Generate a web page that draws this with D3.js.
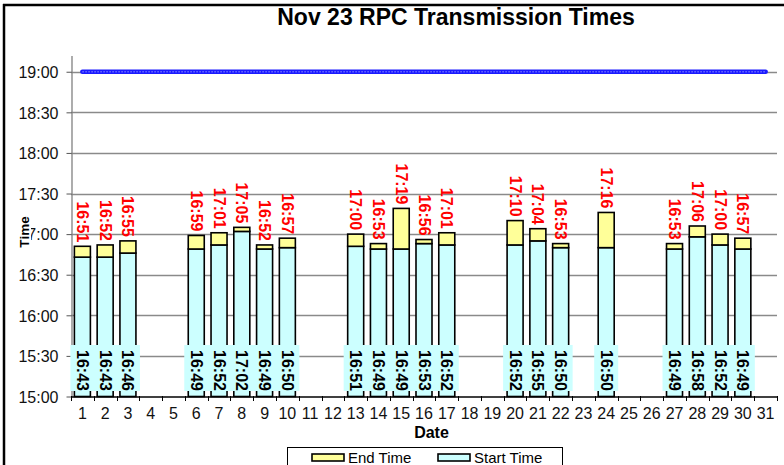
<!DOCTYPE html>
<html><head><meta charset="utf-8">
<script src="https://cdn.jsdelivr.net/npm/d3@7"></script>
<style>
html,body{margin:0;padding:0;background:#fff;}
svg{display:block;font-family:"Liberation Sans",Arial,sans-serif;}
</style></head>
<body>
<svg id="chart" width="784" height="465"></svg>
<script>
const categories = d3.range(1, 32).map(String);
const days = ["1","2","3","6","7","8","9","10","13","14","15","16","17","20","21","22","24","27","28","29","30"];
const startTimes = ["16:43","16:43","16:46","16:49","16:52","17:02","16:49","16:50","16:51","16:49","16:49","16:53","16:52","16:52","16:55","16:50","16:50","16:49","16:58","16:52","16:49"];
const endTimes = ["16:51","16:52","16:55","16:59","17:01","17:05","16:52","16:57","17:00","16:53","17:19","16:56","17:01","17:10","17:04","16:53","17:16","16:53","17:06","17:00","16:57"];
const deadlineValues = categories.map(() => "19:00");
const yTickLabels = ["15:00","15:30","16:00","16:30","17:00","17:30","18:00","18:30","19:00"];
const yDomain = ["15:00","19:12"];

const toMin = s => { const [h,m] = s.split(":").map(Number); return h*60+m; };

const svg = d3.select("#chart");
const x = d3.scaleBand().domain(categories).range([71, 777]).paddingInner(0).paddingOuter(0);
const y = d3.scaleLinear().domain(yDomain.map(toMin)).range([396.5, 55.5]);

// outer frame
svg.append("line").attr("x1",3).attr("x2",784).attr("y1",5).attr("y2",5).attr("stroke","#000").attr("stroke-width",2.5);
svg.append("line").attr("x1",4).attr("x2",4).attr("y1",4).attr("y2",465).attr("stroke","#000").attr("stroke-width",2.5);

// title
svg.append("text").attr("x",456).attr("y",25).attr("text-anchor","middle")
  .attr("font-weight","bold").attr("font-size",23).text("Nov 23 RPC Transmission Times");

// gridlines
svg.append("g").selectAll("line").data(yTickLabels.slice(1)).join("line")
  .attr("x1",71).attr("x2",777)
  .attr("y1",d=>Math.round(y(toMin(d)))+0.5).attr("y2",d=>Math.round(y(toMin(d)))+0.5)
  .attr("stroke","#8a8a8a").attr("stroke-width",1.3);

// y axis
const yAxis = d3.axisLeft(y).tickValues(yTickLabels.map(toMin))
  .tickFormat(v => yTickLabels[yTickLabels.map(toMin).indexOf(v)]).tickSize(5).tickSizeOuter(0);
const gy = svg.append("g").attr("transform","translate(71.5,0)").call(yAxis);
gy.select(".domain").attr("stroke","#808080").attr("stroke-width",1.3);
gy.selectAll(".tick line").attr("stroke","#555");
gy.selectAll(".tick text").attr("font-size",16).attr("fill","#111").attr("font-family","Liberation Sans, Arial, sans-serif").attr("x",-13).attr("dy","0.36em");

const bw = 16;
const cx = d => x(d) + x.bandwidth()/2;

// stacked bars
const gBars = svg.append("g");
days.forEach((d,i) => {
  const s = toMin(startTimes[i]), e = toMin(endTimes[i]);
  gBars.append("rect").attr("x",cx(d)-bw/2).attr("width",bw)
    .attr("y",y(s)).attr("height",y(toMin(yDomain[0]))-y(s))
    .attr("fill","#ccffff").attr("stroke","#000").attr("stroke-width",1.6);
  gBars.append("rect").attr("x",cx(d)-bw/2).attr("width",bw)
    .attr("y",y(e)).attr("height",y(s)-y(e))
    .attr("fill","#ffff99").attr("stroke","#000").attr("stroke-width",1.6);
});

// label boxes for start labels (over bars)
svg.append("g").selectAll("rect").data(days).join("rect")
  .attr("x",d=>cx(d)-12).attr("width",24).attr("y",345).attr("height",46).attr("fill","#ccffff");

// x axis
const xAxis = d3.axisBottom(x).tickSize(0).tickSizeOuter(0);
const gx = svg.append("g").attr("transform","translate(0,396.5)").call(xAxis);
gx.select(".domain").attr("stroke","#000").attr("stroke-width",1.3);
gx.selectAll(".tick text").attr("font-size",16).attr("fill","#111").attr("font-family","Liberation Sans, Arial, sans-serif").attr("dy","0").attr("y",22);
svg.append("g").selectAll("line").data(categories.concat(["end"])).join("line")
  .attr("x1",(d,i)=>i<31?Math.round(x(d))+0.5:777.5).attr("x2",(d,i)=>i<31?Math.round(x(d))+0.5:777.5)
  .attr("y1",396).attr("y2",401).attr("stroke","#000").attr("stroke-width",1);

// start labels
svg.append("g").selectAll("text").data(days).join("text")
  .attr("transform",d=>`translate(${cx(d)},350) rotate(90)`)
  .attr("dominant-baseline","central").attr("font-size",16).attr("font-weight","bold").attr("fill","#000")
  .text((d,i)=>startTimes[i]);

// end labels
svg.append("g").selectAll("text").data(days).join("text")
  .attr("transform",(d,i)=>`translate(${cx(d)},${y(toMin(endTimes[i]))-4}) rotate(90)`)
  .attr("text-anchor","end").attr("dominant-baseline","central").attr("font-size",16).attr("font-weight","bold").attr("fill","#ff0000")
  .text((d,i)=>endTimes[i]);

// deadline line
const line = d3.line().x(d=>cx(d)).y((d,i)=>y(toMin(deadlineValues[i])));
svg.append("path").datum(categories).attr("d",line).attr("fill","none")
  .attr("stroke","#1a1aff").attr("stroke-width",4.6).attr("stroke-linecap","round");
svg.append("path").datum(categories).attr("d",line).attr("fill","none")
  .attr("stroke","#7070ff").attr("stroke-width",1.6).attr("stroke-dasharray","1.4,1.6");

// y axis title with white background
svg.append("rect").attr("x",15).attr("y",215).attr("width",16).attr("height",35).attr("fill","#fff");
svg.append("text").attr("transform","translate(29,232) rotate(-90)").attr("text-anchor","middle")
  .attr("font-weight","bold").attr("font-size",13.5).text("Time");

// x axis title
svg.append("text").attr("x",431.5).attr("y",438).attr("text-anchor","middle")
  .attr("font-weight","bold").attr("font-size",16).text("Date");

// legend
const lg = svg.append("g");
lg.append("rect").attr("x",287.5).attr("y",447.5).attr("width",275).attr("height",30).attr("fill","#fff").attr("stroke","#000").attr("stroke-width",1);
const legendItems = [{label:"End Time", fill:"#ffff99", x:312},{label:"Start Time", fill:"#ccffff", x:438}];
legendItems.forEach(it => {
  lg.append("rect").attr("x",it.x).attr("y",454).attr("width",32).attr("height",7)
    .attr("fill",it.fill).attr("stroke","#000").attr("stroke-width",1.6);
  lg.append("text").attr("x",it.x+36).attr("y",463).attr("font-size",15).attr("fill","#000").text(it.label);
});
</script>
</body></html>
